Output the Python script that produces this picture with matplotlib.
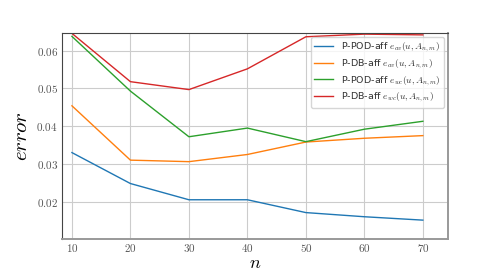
import matplotlib
matplotlib.use("Agg")
import matplotlib.pyplot as plt
from matplotlib.ticker import FuncFormatter

plt.rcParams['mathtext.fontset'] = 'cm'

n = [10, 20, 30, 40, 50, 60, 70]
pod_av = [0.0330, 0.0248, 0.0205, 0.0205, 0.0171, 0.0160, 0.0151]
db_av = [0.0454, 0.0310, 0.0306, 0.0325, 0.0358, 0.0368, 0.0375]
pod_wc = [0.0638, 0.0493, 0.0372, 0.0395, 0.0359, 0.0392, 0.0413]
db_wc = [0.0646, 0.0518, 0.0497, 0.0552, 0.0637, 0.0644, 0.0642]

labels = [r"P-POD-aff $e_{av}(u, A_{n,m})$",
          r"P-DB-aff $e_{av}(u, A_{n,m})$",
          r"P-POD-aff $e_{wc}(u, A_{n,m})$",
          r"P-DB-aff $e_{wc}(u, A_{n,m})$"]
colors = ['#1f77b4', '#ff7f0e', '#2ca02c', '#d62728']

fig = plt.figure(figsize=(4.98, 2.73), dpi=100)
ax = fig.add_axes([62/498, 34/273, 386/498, 206/273])

for ys, lab, c in zip([pod_av, db_av, pod_wc, db_wc], labels, colors):
    ax.plot(n, ys, color=c, lw=1.0, label=lab)

ax.set_xlim(8.3, 74.3)
ax.set_ylim(0.0101, 0.0647)
ax.set_xticks(n)
ax.set_yticks([0.02, 0.03, 0.04, 0.05, 0.06])
ax.xaxis.set_major_formatter(FuncFormatter(lambda v, p: r"$%d$" % v))
ax.yaxis.set_major_formatter(FuncFormatter(lambda v, p: r"$%.2f$" % v))
ax.tick_params(labelsize=8, length=0, colors='#555555', pad=3)
ax.tick_params(axis='x', pad=2)
ax.grid(True, color='#cccccc', lw=0.8)

for s in ['left', 'top']:
    ax.spines[s].set_color('#444444')
for s in ['bottom', 'right']:
    ax.spines[s].set_color('#999999')
    ax.spines[s].set_linewidth(1.4)

ax.set_xlabel(r"$n$", fontsize=13, labelpad=0)
ax.set_ylabel(r"$error$", fontsize=15, labelpad=4)

leg = ax.legend(loc='upper right', fontsize=6.8, handlelength=2.0,
                borderaxespad=0.45, labelspacing=0.3, borderpad=0.35,
                edgecolor='#cccccc')
for t in leg.get_texts():
    t.set_color('#333333')

fig.savefig("out.png", dpi=100)
